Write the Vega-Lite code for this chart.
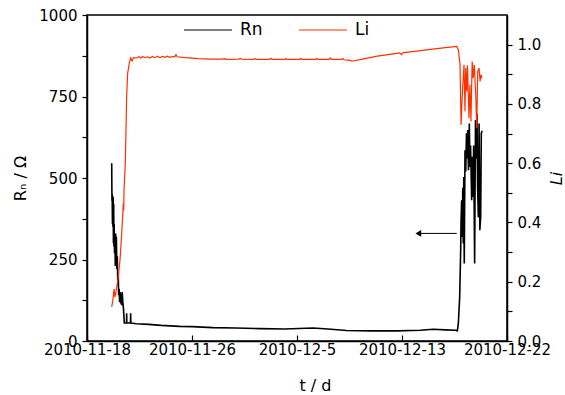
{
  "$schema": "https://vega.github.io/schema/vega-lite/v6.json",
  "width": 420,
  "height": 326,
  "autosize": {"type": "none"},
  "padding": {"left": 87, "top": 15, "right": 58, "bottom": 54},
  "background": "white",
  "config": {
    "font": "DejaVu Sans",
    "view": {"stroke": "black", "strokeWidth": 1.5},
    "axis": {
      "grid": false,
      "domainColor": "black",
      "domainWidth": 1.5,
      "tickColor": "black",
      "tickWidth": 1.2,
      "labelColor": "black",
      "labelFontSize": 15,
      "labelFont": "DejaVu Sans",
      "titleFont": "DejaVu Sans",
      "titleFontSize": 16,
      "titleFontWeight": "normal",
      "titleColor": "black",
      "labelOverlap": false,
      "labelFlush": false
    }
  },
  "datasets": {
    "rn": [
      {"day": 2.00, "value": 545}, {"day": 2.02, "value": 430}, {"day": 2.04, "value": 450}, {"day": 2.06, "value": 360},
      {"day": 2.08, "value": 445}, {"day": 2.10, "value": 350}, {"day": 2.12, "value": 440}, {"day": 2.14, "value": 300},
      {"day": 2.16, "value": 420}, {"day": 2.18, "value": 290}, {"day": 2.20, "value": 360}, {"day": 2.23, "value": 270},
      {"day": 2.26, "value": 320}, {"day": 2.29, "value": 230}, {"day": 2.32, "value": 330}, {"day": 2.35, "value": 240},
      {"day": 2.38, "value": 320}, {"day": 2.41, "value": 220}, {"day": 2.45, "value": 260}, {"day": 2.50, "value": 170},
      {"day": 2.53, "value": 210}, {"day": 2.56, "value": 140}, {"day": 2.60, "value": 160}, {"day": 2.64, "value": 120},
      {"day": 2.68, "value": 150}, {"day": 2.72, "value": 115}, {"day": 2.76, "value": 145}, {"day": 2.80, "value": 110},
      {"day": 2.85, "value": 150}, {"day": 2.90, "value": 120}, {"day": 2.95, "value": 100}, {"day": 3.02, "value": 55},
      {"day": 3.20, "value": 55}, {"day": 3.21, "value": 85}, {"day": 3.22, "value": 55}, {"day": 3.52, "value": 55},
      {"day": 3.53, "value": 85}, {"day": 3.55, "value": 55}, {"day": 4.0, "value": 53}, {"day": 5.0, "value": 51},
      {"day": 6.0, "value": 48}, {"day": 7.5, "value": 45}, {"day": 8.5, "value": 44}, {"day": 10.2, "value": 41},
      {"day": 12.0, "value": 40}, {"day": 14.0, "value": 38}, {"day": 16.0, "value": 37}, {"day": 18.3, "value": 40},
      {"day": 19.5, "value": 37}, {"day": 21.0, "value": 32}, {"day": 23.0, "value": 31}, {"day": 25.1, "value": 31},
      {"day": 27.0, "value": 33}, {"day": 28.0, "value": 36}, {"day": 29.0, "value": 34}, {"day": 29.85, "value": 33},
      {"day": 29.98, "value": 31}, {"day": 30.06, "value": 53}, {"day": 30.17, "value": 135}, {"day": 30.25, "value": 278},
      {"day": 30.28, "value": 370}, {"day": 30.33, "value": 432}, {"day": 30.38, "value": 319}, {"day": 30.42, "value": 470},
      {"day": 30.46, "value": 299}, {"day": 30.50, "value": 503}, {"day": 30.54, "value": 238}, {"day": 30.60, "value": 585},
      {"day": 30.66, "value": 520}, {"day": 30.72, "value": 637}, {"day": 30.78, "value": 560}, {"day": 30.82, "value": 647},
      {"day": 30.88, "value": 524}, {"day": 30.95, "value": 667}, {"day": 31.00, "value": 534}, {"day": 31.05, "value": 600},
      {"day": 31.14, "value": 432}, {"day": 31.20, "value": 565}, {"day": 31.25, "value": 442}, {"day": 31.30, "value": 600},
      {"day": 31.38, "value": 238}, {"day": 31.45, "value": 678}, {"day": 31.50, "value": 560}, {"day": 31.57, "value": 698},
      {"day": 31.62, "value": 473}, {"day": 31.68, "value": 380}, {"day": 31.74, "value": 667}, {"day": 31.80, "value": 340},
      {"day": 31.87, "value": 381}, {"day": 31.92, "value": 637}, {"day": 31.98, "value": 645}
    ],
    "li": [
      {"day": 2.00, "value": 0.115}, {"day": 2.10, "value": 0.14}, {"day": 2.19, "value": 0.175}, {"day": 2.27, "value": 0.148},
      {"day": 2.40, "value": 0.18}, {"day": 2.53, "value": 0.216}, {"day": 2.67, "value": 0.273}, {"day": 2.81, "value": 0.363},
      {"day": 2.94, "value": 0.465}, {"day": 2.97, "value": 0.44}, {"day": 3.00, "value": 0.51}, {"day": 3.10, "value": 0.6},
      {"day": 3.13, "value": 0.66}, {"day": 3.21, "value": 0.825}, {"day": 3.29, "value": 0.904}, {"day": 3.36, "value": 0.92},
      {"day": 3.42, "value": 0.938}, {"day": 3.54, "value": 0.955}, {"day": 3.65, "value": 0.945}, {"day": 3.75, "value": 0.956},
      {"day": 4.0, "value": 0.955}, {"day": 4.2, "value": 0.959}, {"day": 4.35, "value": 0.955}, {"day": 4.5, "value": 0.960},
      {"day": 4.7, "value": 0.956}, {"day": 4.9, "value": 0.959}, {"day": 5.1, "value": 0.955}, {"day": 5.3, "value": 0.960},
      {"day": 5.5, "value": 0.956}, {"day": 5.7, "value": 0.961}, {"day": 5.9, "value": 0.956}, {"day": 6.1, "value": 0.960},
      {"day": 6.3, "value": 0.957}, {"day": 6.5, "value": 0.961}, {"day": 6.7, "value": 0.957}, {"day": 6.9, "value": 0.960},
      {"day": 7.1, "value": 0.959}, {"day": 7.2, "value": 0.966}, {"day": 7.3, "value": 0.959}, {"day": 8.0, "value": 0.956},
      {"day": 9.0, "value": 0.953}, {"day": 10.0, "value": 0.951}, {"day": 11.0, "value": 0.951}, {"day": 11.1, "value": 0.954},
      {"day": 11.2, "value": 0.950}, {"day": 12.3, "value": 0.951}, {"day": 12.4, "value": 0.954}, {"day": 12.5, "value": 0.951},
      {"day": 13.5, "value": 0.950}, {"day": 13.6, "value": 0.953}, {"day": 13.7, "value": 0.950}, {"day": 14.8, "value": 0.950},
      {"day": 14.9, "value": 0.954}, {"day": 15.0, "value": 0.950}, {"day": 16.0, "value": 0.950}, {"day": 16.1, "value": 0.953},
      {"day": 16.2, "value": 0.950}, {"day": 17.2, "value": 0.950}, {"day": 17.3, "value": 0.954}, {"day": 17.4, "value": 0.950},
      {"day": 18.5, "value": 0.950}, {"day": 18.6, "value": 0.954}, {"day": 18.7, "value": 0.950}, {"day": 19.6, "value": 0.950},
      {"day": 19.7, "value": 0.955}, {"day": 19.8, "value": 0.950}, {"day": 20.6, "value": 0.950}, {"day": 20.7, "value": 0.953},
      {"day": 20.8, "value": 0.949}, {"day": 21.3, "value": 0.947}, {"day": 21.45, "value": 0.944},
      {"day": 22.5, "value": 0.953}, {"day": 23.5, "value": 0.961}, {"day": 24.5, "value": 0.967}, {"day": 25.3, "value": 0.972},
      {"day": 25.45, "value": 0.966}, {"day": 25.6, "value": 0.973}, {"day": 26.0, "value": 0.975}, {"day": 27.0, "value": 0.980},
      {"day": 28.0, "value": 0.985}, {"day": 29.0, "value": 0.990}, {"day": 29.93, "value": 0.994}, {"day": 30.06, "value": 0.983},
      {"day": 30.20, "value": 0.932}, {"day": 30.28, "value": 0.729}, {"day": 30.38, "value": 0.831}, {"day": 30.52, "value": 0.932},
      {"day": 30.60, "value": 0.775}, {"day": 30.66, "value": 0.921}, {"day": 30.74, "value": 0.842}, {"day": 30.80, "value": 0.93},
      {"day": 30.92, "value": 0.752}, {"day": 31.00, "value": 0.865}, {"day": 31.08, "value": 0.741}, {"day": 31.18, "value": 0.943},
      {"day": 31.26, "value": 0.887}, {"day": 31.35, "value": 0.932}, {"day": 31.47, "value": 0.831}, {"day": 31.55, "value": 0.718},
      {"day": 31.63, "value": 0.910}, {"day": 31.74, "value": 0.921}, {"day": 31.82, "value": 0.876}, {"day": 31.90, "value": 0.899},
      {"day": 31.96, "value": 0.887}
    ],
    "arrow": [
      {"start": 26.82, "end": 29.93, "level": 330}
    ]
  },
  "layer": [
    {
      "layer": [
        {
          "data": {"name": "rn"},
          "mark": {"type": "line", "strokeWidth": 1.6, "interpolate": "linear"},
          "encoding": {
            "x": {
              "field": "day", "type": "quantitative",
              "scale": {"domain": [0, 34], "nice": false, "zero": false},
              "axis": {
                "title": "t / d",
                "values": [0, 8.5, 17, 25.5, 34],
                "labelExpr": "datum.value == 0 ? '2010-11-18' : datum.value == 8.5 ? '2010-11-26' : datum.value == 17 ? '2010-12-5' : datum.value == 25.5 ? '2010-12-13' : '2010-12-22'",
                "tickSize": -6,
                "labelPadding": 7,
                "titlePadding": 20,
                "titleX": 228
              }
            },
            "y": {
              "field": "value", "type": "quantitative",
              "scale": {"domain": [0, 1000], "nice": false},
              "axis": {
                "title": "Rₙ / Ω",
                "orient": "left",
                "values": [0, 125, 250, 375, 500, 625, 750, 875, 1000],
                "labelExpr": "datum.value % 250 == 0 ? datum.value : ''",
                "tickSize": 5,
                "labelPadding": 5,
                "titlePadding": 10
              }
            },
            "color": {
              "datum": "Rn",
              "type": "nominal",
              "scale": {"domain": ["Rn", "Li"], "range": ["#000000", "#ff3000"]},
              "legend": {
                "title": null,
                "orient": "none",
                "legendX": 96,
                "legendY": -10,
                "direction": "horizontal",
                "symbolType": "stroke",
                "symbolSize": 2304,
                "symbolStrokeWidth": 1.2,
                "labelFontSize": 17,
                "labelFont": "DejaVu Sans",
                "labelColor": "black",
                "labelOffset": 7,
                "columnPadding": 33,
                "padding": 0
              }
            }
          }
        },
        {
          "data": {"name": "arrow"},
          "mark": {"type": "rule", "color": "black", "strokeWidth": 1},
          "encoding": {
            "x": {"field": "start", "type": "quantitative"},
            "x2": {"field": "end"},
            "y": {"field": "level", "type": "quantitative"}
          }
        },
        {
          "data": {"name": "arrow"},
          "mark": {"type": "point", "shape": "triangle-left", "filled": true, "color": "black", "size": 45, "opacity": 1},
          "encoding": {
            "x": {"field": "start", "type": "quantitative"},
            "y": {"field": "level", "type": "quantitative"}
          }
        }
      ]
    },
    {
      "data": {"name": "li"},
      "mark": {"type": "line", "strokeWidth": 1.2},
      "encoding": {
        "x": {"field": "day", "type": "quantitative"},
        "y": {
          "field": "value", "type": "quantitative",
          "scale": {"domain": [0, 1.1], "nice": false},
          "axis": {
            "title": "Li",
            "orient": "right",
            "titleFontStyle": "italic",
            "titleAngle": -90,
            "values": [0, 0.1, 0.2, 0.3, 0.4, 0.5, 0.6, 0.7, 0.8, 0.9, 1.0],
            "labelExpr": "round(datum.value * 10) % 2 == 0 ? format(datum.value, '.1f') : ''",
            "tickSize": 5,
            "labelPadding": 5,
            "titlePadding": 24
          }
        },
        "color": {"datum": "Li", "type": "nominal"}
      }
    }
  ],
  "resolve": {"scale": {"y": "independent"}}
}
